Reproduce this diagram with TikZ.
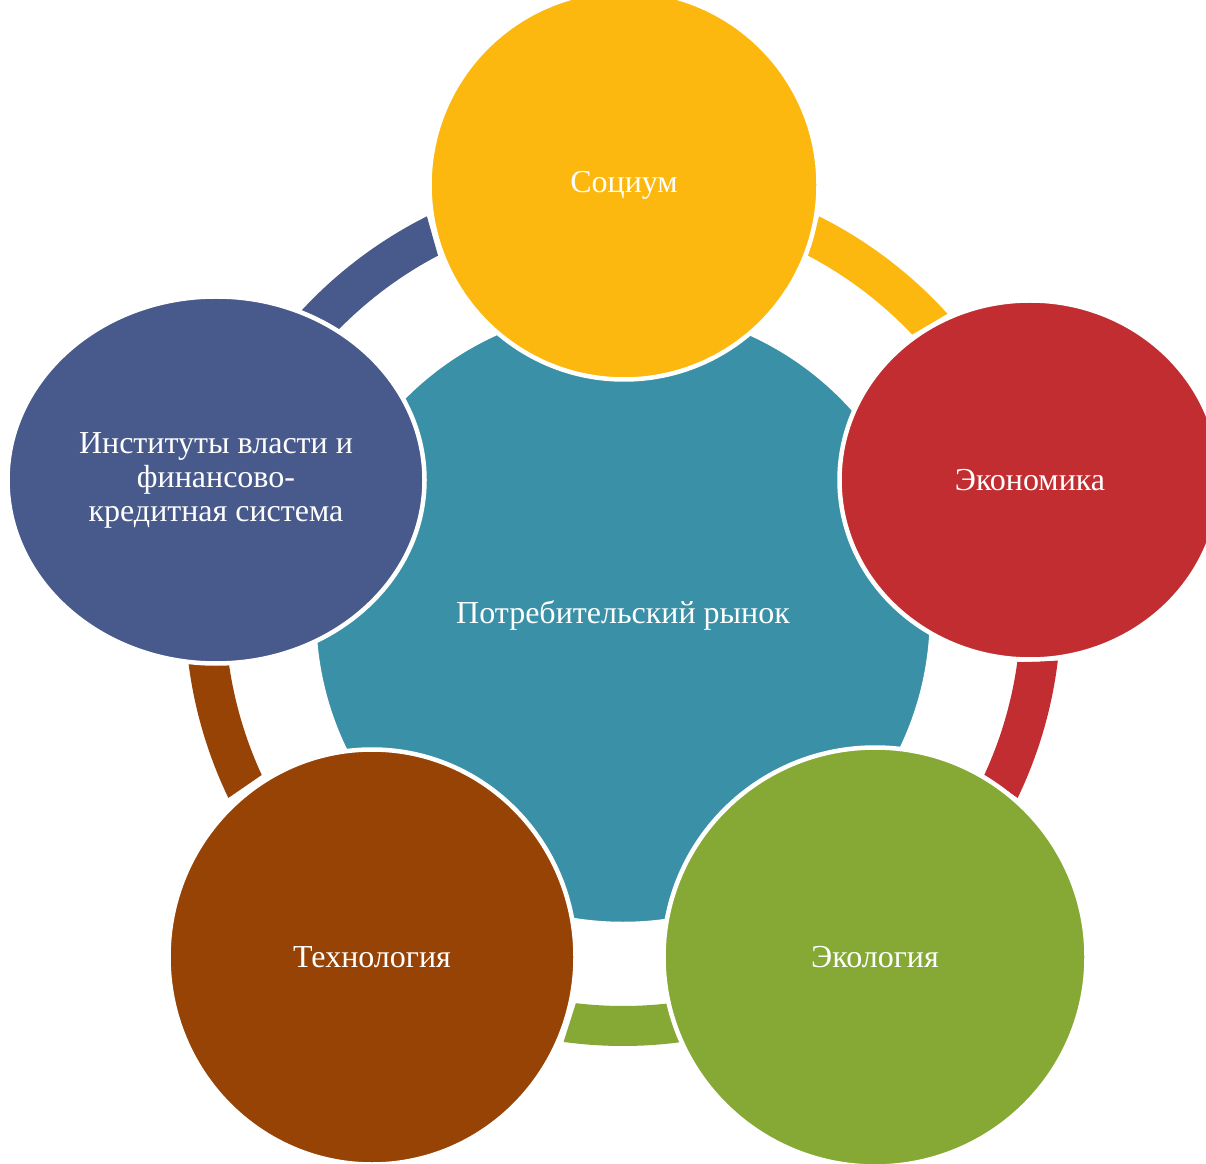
\documentclass[tikz,border=0pt]{standalone}
\usepackage{fontspec}
\setmainfont{Liberation Serif}
\usetikzlibrary{shapes.geometric,calc}
\definecolor{cTeal}{HTML}{3A90A6}
\definecolor{cYellow}{HTML}{FDB80F}
\definecolor{cRed}{HTML}{C12D30}
\definecolor{cGreen}{HTML}{86A935}
\definecolor{cBrown}{HTML}{974306}
\definecolor{cSlate}{HTML}{485A8B}
\newcommand{\ringseg}[5]{%
  \fill[#1] ($(C)+(#2:438)$) arc[start angle=#2,end angle=#3,radius=438pt]
    -- ($(C)+(#4:398)$) arc[start angle=#4,end angle=#5,radius=398pt] -- cycle;}
\begin{document}
\begin{tikzpicture}[x=1pt,y=1pt,
  bubble/.style={ellipse, inner sep=0pt, draw=white, line width=4.5pt,
    text=white, align=center, font=\fontsize{32}{34}\selectfont}]
\fill[white] (0,0) rectangle (1206,1163);
\useasboundingbox (0,0) rectangle (1206,1163);
\coordinate (C) at (623,555);
% central circle
\node[bubble, fill=cTeal, minimum width=618pt, minimum height=618pt] (core) at (623,548) {Потребительский рынок};
% ring segments
\ringseg{cYellow}{42.2}{63.4}{62.3}{43.4}
\ringseg{cSlate}{116.6}{137.8}{136.6}{117.7}
\ringseg{cRed}{-25.7}{-6.9}{-7.8}{-24.8}
\ringseg{cBrown}{186.9}{205.7}{204.8}{187.8}
\ringseg{cGreen}{-97.8}{-82.2}{-83.2}{-96.8}
% outer circles
\node[bubble, fill=cYellow, minimum width=389pt, minimum height=389pt] (soc) at (624,978) {Социум};
\node[bubble, fill=cRed, minimum width=381pt, minimum height=359pt] (eco) at (1030,683) {Экономика};
\node[bubble, fill=cGreen, minimum width=423pt, minimum height=419pt] (ecol) at (875,206) {Экология};
\node[bubble, fill=cBrown, minimum width=407pt, minimum height=415pt] (tech) at (372,206) {Технология};
\node[bubble, fill=cSlate, minimum width=417pt, minimum height=367pt] (inst) at (216,683) {Институты власти и\\финансово-\\кредитная система};
\end{tikzpicture}
\end{document}
